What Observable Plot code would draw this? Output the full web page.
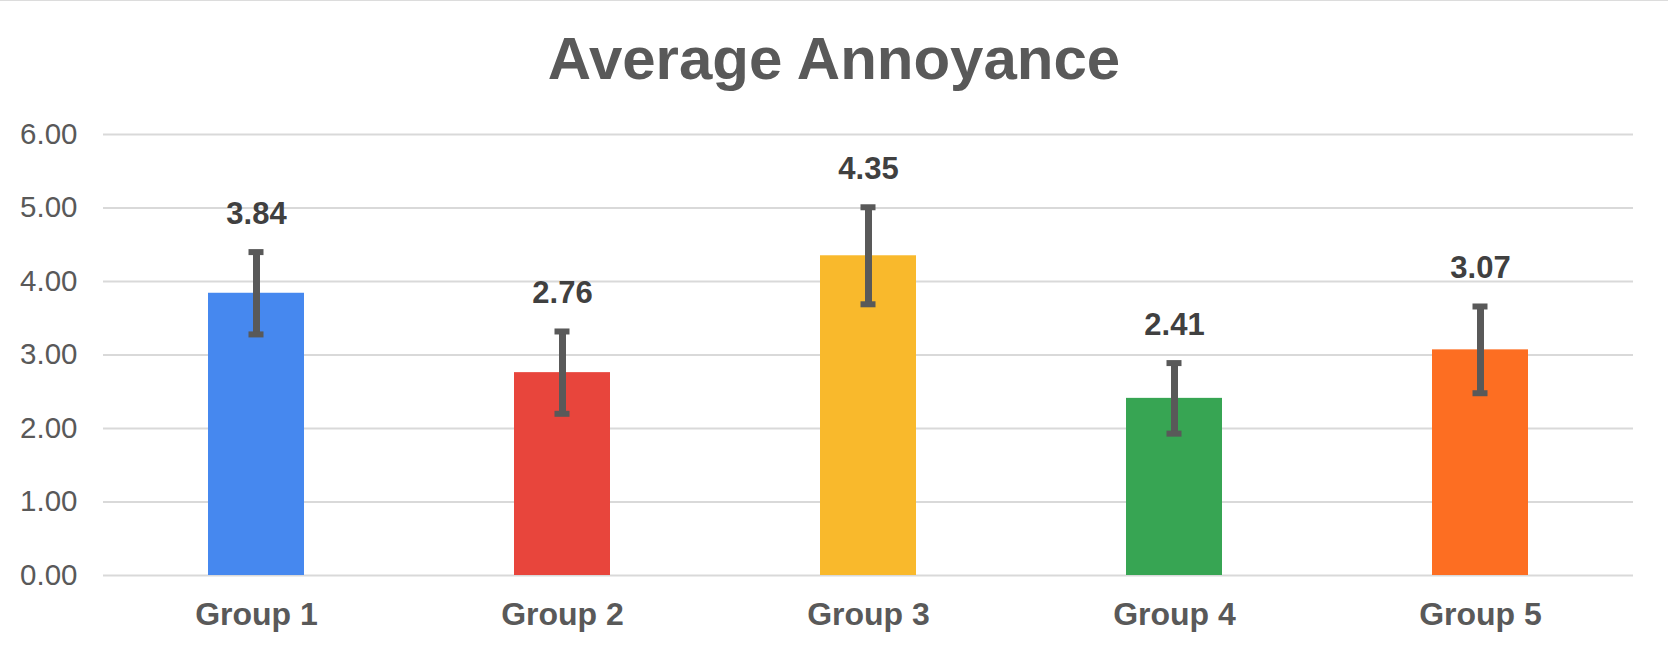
<!DOCTYPE html>
<html>
<head>
<meta charset="utf-8">
<script src="https://cdn.jsdelivr.net/npm/d3@7"></script>
<script src="https://cdn.jsdelivr.net/npm/@observablehq/plot@0.6"></script>
<style>
  html, body { margin: 0; padding: 0; background: #fff; }
  #wrap { position: relative; width: 1668px; height: 650px; border-top: 1px solid #dcdcdc; box-sizing: border-box; overflow: hidden; }
  #title { position: absolute; left: 0; top: 28px; width: 1668px; text-align: center;
           font-family: "Liberation Sans", Arial, sans-serif; font-weight: bold; font-size: 60px;
           line-height: 60px; color: #595959; }
  #chart { position: absolute; left: 0; top: 99px; }
  #chart svg [aria-label="x-axis tick label"] text { font-weight: bold; }
</style>
</head>
<body>
<div id="wrap">
  <div id="title">Average Annoyance</div>
  <div id="chart"></div>
</div>
<script>
const groups = ["Group 1", "Group 2", "Group 3", "Group 4", "Group 5"];
const values = [3.84, 2.76, 4.35, 2.41, 3.07];
const errors = [0.56, 0.56, 0.66, 0.48, 0.59];
const colors = ["#4688EF", "#E8453C", "#F9B92C", "#37A553", "#FD6E22"];
const yTicks = [0, 1, 2, 3, 4, 5, 6];

const data = groups.map((g, i) => ({group: g, value: values[i], err: errors[i]}));

const chart = Plot.plot({
  width: 1668,
  height: 551,
  marginTop: 34,
  marginBottom: 76,
  marginLeft: 103,
  marginRight: 35,
  style: {fontFamily: "'Liberation Sans', Arial, sans-serif", background: "transparent"},
  x: {domain: groups, paddingInner: 0.686, paddingOuter: 0.343, label: null},
  y: {domain: [0, 6], label: null},
  color: {domain: groups, range: colors},
  marks: [
    Plot.gridY(yTicks, {stroke: "#d9d9d9", strokeOpacity: 1, strokeWidth: 2}),
    Plot.barY(data, {x: "group", y: "value", fill: "group"}),
    Plot.ruleX(data, {x: "group", y1: d => d.value - d.err, y2: d => d.value + d.err, stroke: "#595959", strokeWidth: 7}),
    Plot.tickY(data, {x: "group", y: d => d.value + d.err, stroke: "#595959", strokeWidth: 6, insetLeft: 40.5, insetRight: 40.5}),
    Plot.tickY(data, {x: "group", y: d => d.value - d.err, stroke: "#595959", strokeWidth: 6, insetLeft: 40.5, insetRight: 40.5}),
    Plot.text(data, {x: "group", y: d => d.value + d.err, text: d => d.value.toFixed(2), dy: -28,
      lineAnchor: "bottom", fontSize: 31, fontWeight: "bold", fill: "#404040"}),
    Plot.axisY(yTicks, {tickSize: 0, tickPadding: 26, fontSize: 29.5, color: "#595959", tickFormat: d3.format(".2f"), label: null}),
    Plot.axisX({tickSize: 0, tickPadding: 27, fontSize: 32, fontWeight: "bold", color: "#595959", label: null})
  ]
});
document.getElementById("chart").appendChild(chart);
</script>
</body>
</html>
